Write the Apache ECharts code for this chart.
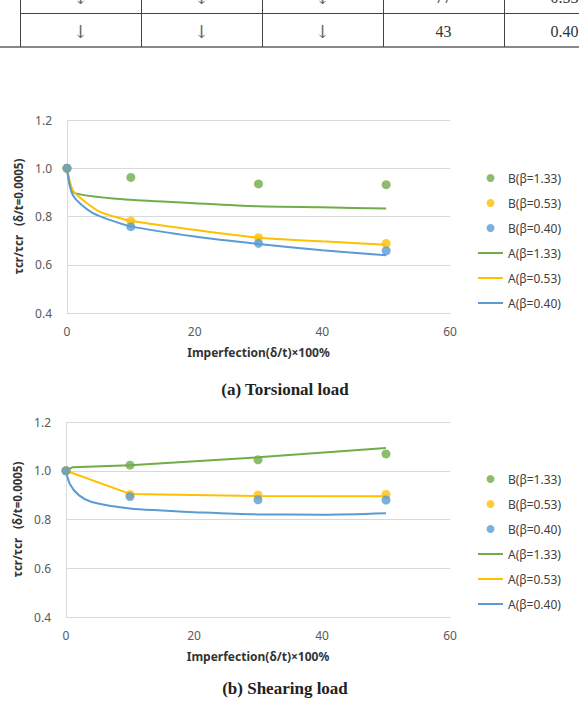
<!DOCTYPE html>
<html>
<head>
<meta charset="utf-8">
<script src="https://cdn.jsdelivr.net/npm/echarts@6/dist/echarts.min.js"></script>
<style>
html, body { margin: 0; padding: 0; background: #fff; }
#main { width: 579px; height: 708px; }
</style>
</head>
<body>
<div id="main"></div>
<script>
// table rows seen at top of the page (cut off)
const tableRows = [
  ['↓', '↓', '↓', '77', '0.53'],
  ['↓', '↓', '↓', '43', '0.40']
];

const seriesNames = ['B(β=1.33)', 'B(β=0.53)', 'B(β=0.40)', 'A(β=1.33)', 'A(β=0.53)', 'A(β=0.40)'];
const colors = ['#70AD47', '#FFC000', '#5B9BD5'];
const xTicks = [0, 20, 40, 60];
const yTicks = [0.4, 0.6, 0.8, 1.0, 1.2];

// measured points (B), x = imperfection
const bX = [0, 10, 30, 50];
const torsionB133 = [1.0, 0.962, 0.935, 0.932];
const torsionB053 = [1.0, 0.781, 0.712, 0.688];
const torsionB040 = [1.0, 0.758, 0.689, 0.658];
const shearB133 = [1.0, 1.023, 1.045, 1.069];
const shearB053 = [1.0, 0.903, 0.901, 0.903];
const shearB040 = [1.0, 0.894, 0.881, 0.880];

// analysis curves (A)
const torsionA133 = [[0, 1.0], [1, 0.90], [10, 0.869], [20, 0.855], [30, 0.842], [40, 0.838], [50, 0.833]];
const torsionA053 = [[0, 1.0], [1, 0.905], [5, 0.821], [10, 0.782], [20, 0.745], [30, 0.712], [40, 0.697], [50, 0.683]];
const torsionA040 = [[0, 1.0], [0.5, 0.92], [1, 0.885], [2, 0.855], [4, 0.815], [6.7, 0.786], [10, 0.759], [20, 0.717], [30, 0.686], [40, 0.66], [50, 0.639]];
const shearA133 = [[0, 1.0], [1, 1.014], [10, 1.023], [30, 1.055], [50, 1.093]];
const shearA053 = [[0, 1.0], [10, 0.905], [30, 0.896], [50, 0.895]];
const shearA040 = [[0, 1.0], [0.6, 0.946], [2, 0.9], [4, 0.872], [10, 0.845], [15, 0.837], [20, 0.83], [30, 0.821], [40, 0.82], [50, 0.826]];

const captions = ['(a) Torsional load', '(b) Shearing load'];

let myChart = echarts.init(document.getElementById('main'), null, {renderer: 'svg'});

const labelFont = '"Noto Sans", sans-serif';

function makeAxes(idx) {
  let xAxis = {
    type: 'value', gridIndex: idx, min: xTicks[0], max: xTicks[xTicks.length - 1], interval: 20,
    name: 'Imperfection(δ/t)×100%', nameLocation: 'middle', nameGap: 33,
    nameTextStyle: {fontFamily: labelFont, fontSize: 12, fontWeight: 'bold', color: '#333'},
    axisLine: {show: true, lineStyle: {color: '#D9D9D9'}},
    axisTick: {show: false},
    splitLine: {show: false},
    axisLabel: {margin: 12, fontFamily: labelFont, fontSize: 12, color: '#595959'}
  };
  let yAxis = {
    type: 'value', gridIndex: idx, min: yTicks[0], max: yTicks[yTicks.length - 1], interval: 0.2,
    // non-breaking spaces keep the wide gap
    name: 'τcr/τcr\u00a0\u00a0\u00a0(δ/t=0.0005)', nameLocation: 'middle', nameGap: 33,
    nameTextStyle: {fontFamily: labelFont, fontSize: 11.5, fontWeight: 'bold', color: '#333'},
    axisLine: {show: true, lineStyle: {color: '#D9D9D9'}},
    axisTick: {show: false},
    splitLine: {show: true, lineStyle: {color: '#D9D9D9'}},
    axisLabel: {margin: 15, fontFamily: labelFont, fontSize: 12, color: '#595959',
      formatter: v => v.toFixed(1)}
  };
  return [xAxis, yAxis];
}

function scatter(name, idx, ys, color) {
  return {
    name: name, type: 'scatter', xAxisIndex: idx, yAxisIndex: idx, z: 3,
    symbol: 'circle', symbolSize: 9, itemStyle: {color: color},
    data: bX.map((x, i) => [x, ys[i]])
  };
}

function line(name, idx, pts, color, smooth) {
  return {
    name: name, type: 'line', xAxisIndex: idx, yAxisIndex: idx, z: 2,
    symbol: 'none', smooth: smooth,
    lineStyle: {color: color, width: 2}, itemStyle: {color: color},
    data: pts
  };
}

const a0 = makeAxes(0), a1 = makeAxes(1);

// table drawn as graphic elements
let graphic = [];
const colEdges = [20, 141, 262, 383, 504, 625];
const rowCenters = [-3, 31];
graphic.push({type: 'line', shape: {x1: 20, y1: 13.5, x2: 579, y2: 13.5}, style: {stroke: '#444', lineWidth: 1}});
graphic.push({type: 'line', shape: {x1: 0, y1: 47, x2: 579, y2: 47}, style: {stroke: '#888', lineWidth: 2}});
colEdges.forEach(x => {
  graphic.push({type: 'line', shape: {x1: x + 0.5, y1: 0, x2: x + 0.5, y2: 47}, style: {stroke: '#444', lineWidth: 1}});
});
tableRows.forEach((row, r) => {
  row.forEach((t, c) => {
    graphic.push({
      type: 'text', x: (colEdges[c] + colEdges[c + 1]) / 2, y: rowCenters[r],
      style: {text: t, align: 'center', verticalAlign: 'middle',
        font: t === '↓' ? '18px "DejaVu Serif", serif' : '16px "Liberation Serif", serif',
        fill: t === '↓' ? '#666' : '#333'}
    });
  });
});
captions.forEach((t, i) => {
  graphic.push({
    type: 'text', x: 285, y: i === 0 ? 389 : 688,
    style: {text: t, align: 'center', verticalAlign: 'middle',
      font: 'bold 17px "Liberation Serif", serif', fill: '#222'}
  });
});

const lineIcon = 'path://M0,0H25V2H0Z';

function legend(top) {
  return {
    orient: 'vertical', left: 473, top: top,
    itemWidth: 25, itemHeight: 8, itemGap: 13,
    textStyle: {fontFamily: labelFont, fontSize: 12, color: '#404040'},
    data: seriesNames.map((n, i) => i < 3 ? {name: n, icon: 'circle'}
      : {name: n, icon: lineIcon, itemStyle: {color: colors[i - 3]}})
  };
}

let option = {
  backgroundColor: '#fff',
  animation: false,
  graphic: graphic,
  legend: [legend(167), legend(468)],
  grid: [
    {left: 67, top: 120, width: 383, height: 193},
    {left: 66, top: 422, width: 384, height: 195}
  ],
  xAxis: [a0[0], a1[0]],
  yAxis: [a0[1], a1[1]],
  series: [
    scatter(seriesNames[0], 0, torsionB133, colors[0]),
    scatter(seriesNames[1], 0, torsionB053, colors[1]),
    scatter(seriesNames[2], 0, torsionB040, colors[2]),
    line(seriesNames[3], 0, torsionA133, colors[0], 0.2),
    line(seriesNames[4], 0, torsionA053, colors[1], 0.2),
    line(seriesNames[5], 0, torsionA040, colors[2], 0.3),
    scatter(seriesNames[0], 1, shearB133, colors[0]),
    scatter(seriesNames[1], 1, shearB053, colors[1]),
    scatter(seriesNames[2], 1, shearB040, colors[2]),
    line(seriesNames[3], 1, shearA133, colors[0], false),
    line(seriesNames[4], 1, shearA053, colors[1], false),
    line(seriesNames[5], 1, shearA040, colors[2], 0.3)
  ]
};
myChart.setOption(option);
window.onresize = function () {
  myChart.resize()
}
</script>
</body>
</html>
